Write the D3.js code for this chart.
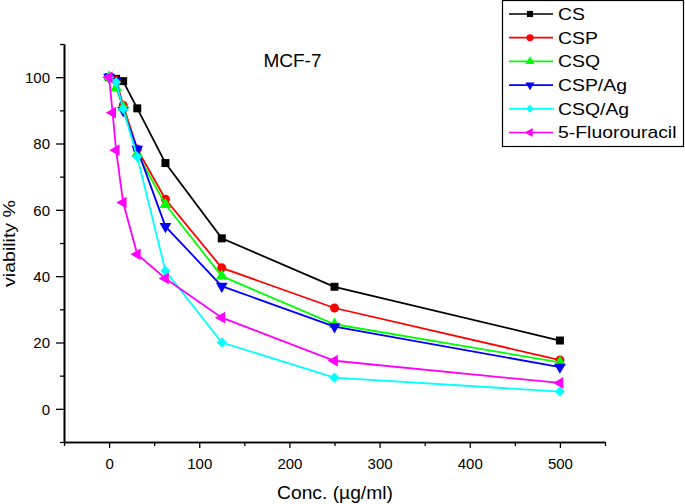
<!DOCTYPE html>
<html><head><meta charset="utf-8">
<script src="https://cdn.jsdelivr.net/npm/d3@7"></script>
<style>
html,body{margin:0;padding:0;background:#fff;}
text{font-family:"Liberation Sans",Arial,sans-serif;}
</style></head>
<body><svg id="chart" width="685" height="504"></svg>
<script>
const seriesNames = ["CS", "CSP", "CSQ", "CSP/Ag", "CSQ/Ag", "5-Fluorouracil"];
const seriesColors = ["#000000", "#ff0000", "#00ff00", "#0000ff", "#00ffff", "#ff00ff"];
const xConc = [0, 7.8, 15.6, 31.25, 62.5, 125, 250, 500];
const xFU = [0, 3.9, 7.8, 15.6, 31.25, 62.5, 125, 250, 500];
const csVals = [100, 99.5, 98.8, 90.6, 74.1, 51.4, 36.8, 20.6];
const cspVals = [100, 99, 91.5, 78.3, 63.2, 42.5, 30.4, 14.7];
const csqVals = [100, 96.8, 91, 77, 61.6, 40, 25.5, 14];
const cspAgVals = [100, 99, 90, 78.3, 55, 37, 24.8, 12.6];
const csqAgVals = [100, 98.5, 90.4, 76, 41.6, 20, 9.4, 5.2];
const fuVals = [100, 89.3, 78, 62.2, 46.6, 39.3, 27.5, 14.5, 7.8];
const xTicks = [0, 100, 200, 300, 400, 500];
const yTicks = [0, 20, 40, 60, 80, 100];
const title = "MCF-7";
const xTitle = "Conc. (\u00b5g/ml)";
const yTitle = "viability %";

const svg = d3.select("#chart");
const L = 64, R = 605, T = 44, B = 442;
const x = d3.scaleLinear().domain([-50, 550]).range([L, R]);
const y = d3.scaleLinear().domain([-10, 110]).range([B, T]);

function stretch(sel, factor){
  sel.each(function(){
    const w = this.getComputedTextLength();
    d3.select(this).attr("textLength", w * factor).attr("lengthAdjust", "spacingAndGlyphs");
  });
  return sel;
}

// axes
const xAxis = d3.axisBottom(x).tickValues(xTicks).tickSize(6).tickSizeOuter(0).tickFormat(d3.format("d"));
const xMinor = d3.axisBottom(x).tickValues(d3.range(-50, 551, 50).filter(v => v % 100 !== 0)).tickSize(4).tickSizeOuter(0).tickFormat("");
const yAxis = d3.axisLeft(y).tickValues(yTicks).tickSize(8).tickSizeOuter(0).tickFormat(d3.format("d"));
const yMinor = d3.axisLeft(y).tickValues(d3.range(-10, 111, 10).filter(v => v % 20 !== 0)).tickSize(4).tickSizeOuter(0).tickFormat("");

function styleAxis(g){
  g.selectAll("path").attr("stroke","#000").attr("stroke-width",1.6);
  g.selectAll("line").attr("stroke","#000").attr("stroke-width",1.3);
  g.selectAll("text").attr("fill","#000").style("font-size","15px").style("font-family","'Liberation Sans',Arial,sans-serif");
}
svg.append("g").attr("transform",`translate(0,${B})`).call(xMinor).call(styleAxis);
svg.append("g").attr("transform",`translate(0,${B})`).call(xAxis).call(styleAxis).selectAll("text").attr("y", 27).attr("dy", 0);
svg.append("g").attr("transform",`translate(${L},0)`).call(yMinor).call(styleAxis);
svg.append("g").attr("transform",`translate(${L},0)`).call(yAxis).call(styleAxis).selectAll("text").attr("x", -14).attr("dy", "0.36em");

// titles
svg.append("text").attr("x", 292.5).attr("y", 67).attr("text-anchor","middle").style("font-size","19px").attr("fill","#000").text(title);
stretch(svg.append("text").attr("x", 335).attr("y", 499).attr("text-anchor","middle").style("font-size","17.5px").attr("fill","#000").text(xTitle), 1.1);
const yt = svg.append("text").attr("transform",`translate(15,243.5) rotate(-90)`).attr("text-anchor","middle").style("font-size","16px").attr("fill","#000").text(yTitle);
yt.attr("textLength", 87).attr("lengthAdjust","spacingAndGlyphs");

// series
const series = [
  {name: seriesNames[0], color: seriesColors[0], xs: xConc, ys: csVals, sym: d3.symbolSquare, rot: 0, size: 64},
  {name: seriesNames[1], color: seriesColors[1], xs: xConc, ys: cspVals, sym: d3.symbolCircle, rot: 0, size: 64},
  {name: seriesNames[2], color: seriesColors[2], xs: xConc, ys: csqVals, sym: d3.symbolTriangle, rot: 0, size: 60},
  {name: seriesNames[3], color: seriesColors[3], xs: xConc, ys: cspAgVals, sym: d3.symbolTriangle, rot: 180, size: 60},
  {name: seriesNames[4], color: seriesColors[4], xs: xConc, ys: csqAgVals, sym: d3.symbolSquare, rot: 45, size: 52},
  {name: seriesNames[5], color: seriesColors[5], xs: xFU, ys: fuVals, sym: d3.symbolTriangle, rot: -90, size: 60}
];
const line = d3.line().x(d => x(d[0])).y(d => y(d[1]));
series.forEach(s => {
  const pts = s.xs.map((v,i) => [v, s.ys[i]]);
  const g = svg.append("g");
  g.append("path").attr("d", line(pts)).attr("fill","none").attr("stroke", s.color).attr("stroke-width", 1.8);
  g.selectAll("path.m").data(pts).enter().append("path").attr("class","m")
    .attr("d", d3.symbol().type(s.sym).size(s.size))
    .attr("transform", d => `translate(${x(d[0])},${y(d[1])}) rotate(${s.rot})`)
    .attr("fill", s.color);
});

// legend
const lg = svg.append("g");
lg.append("rect").attr("x", 502.5).attr("y", 0.5).attr("width", 181).attr("height", 146).attr("fill","#fff").attr("stroke","#000").attr("stroke-width",1.2);
series.forEach((s, i) => {
  const cy = 14 + i * 23.7;
  lg.append("line").attr("x1", 509).attr("x2", 553).attr("y1", cy).attr("y2", cy).attr("stroke", s.color).attr("stroke-width", 1.7);
  lg.append("path").attr("d", d3.symbol().type(s.sym).size(s.size * 0.6)).attr("transform", `translate(530,${cy}) rotate(${s.rot})`).attr("fill", s.color);
  stretch(lg.append("text").attr("x", 558).attr("y", cy + 5.8).style("font-size","17px").attr("fill","#000").text(s.name), 1.14);
});
</script></body></html>
